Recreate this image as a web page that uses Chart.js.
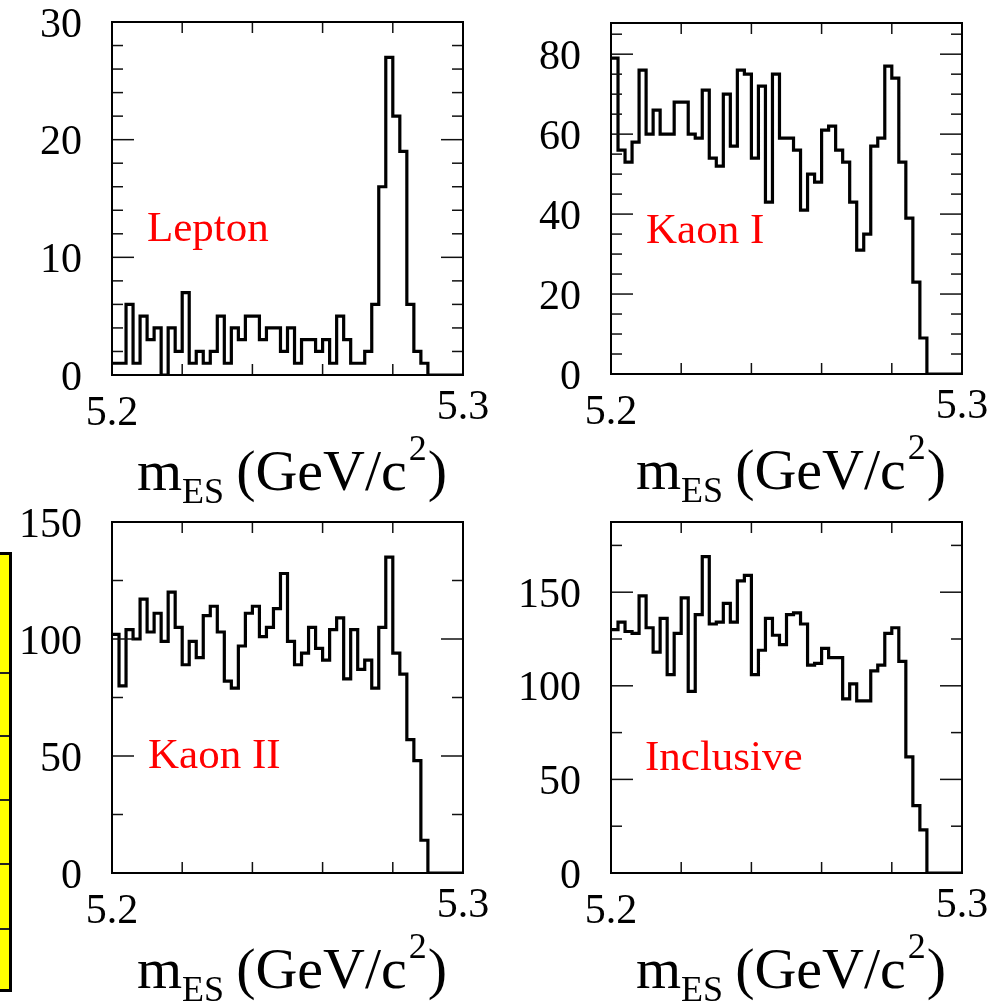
<!DOCTYPE html>
<html><head><meta charset="utf-8">
<script src="https://cdn.jsdelivr.net/npm/chart.js@4/dist/chart.umd.min.js"></script>
<style>
html,body{margin:0;padding:0;background:#fff;}
#wrap{position:relative;width:1002px;height:1003px;overflow:hidden;background:#fff;}
#wrap canvas{position:absolute;left:0;top:0;}
#ybox{position:absolute;left:-8px;top:552px;width:14px;height:434px;background:#ffff00;border:3px solid #000;}
#ybox div{position:absolute;left:0;width:100%;height:2px;background:#222;}
</style></head>
<body>
<div id="wrap">
  <div id="ybox"><div style="top:117px"></div><div style="top:180px"></div><div style="top:244px"></div><div style="top:308px"></div><div style="top:373px"></div></div>
  <canvas id="c1" width="1002" height="1003"></canvas>
  <canvas id="c2" width="1002" height="1003"></canvas>
  <canvas id="c3" width="1002" height="1003"></canvas>
  <canvas id="c4" width="1002" height="1003"></canvas>
</div>
<script>
// ---- data (50 bins, 5.20 - 5.30 GeV/c^2) ----
const X_MIN = 5.2, X_MAX = 5.3, N_BINS = 50;
const xTickLabels = ['5.2', '5.3'];

const lepton = [1,1,6,1,5,3,4,0,4,2,7,1,2,1,2,5,1,4,3,5,5,3,4,4,2,
                4,1,3,3,2,3,1,5,3,1,1,2,6,16,27,22,19,6,2,1,0,0,0,0,0];
const kaonI = [79,56,53,58,76,60,66,60,60,68,68,60,59,71,54,52,70,57,76,75,54,72,43,75,59,
               59,56,41,50,48,61,62,56,53,43,31,35,57,59,77,74,53,39,23,9,0,0,0,0,0];
const kaonII = [102,80,104,100,117,103,111,99,120,105,89,99,92,110,114,103,82,79,97,111,114,101,105,113,128,
                99,89,94,105,96,91,104,109,83,104,87,91,79,105,135,94,85,57,48,14,0,0,0,0,0];
const inclusive = [130,134,129,128,148,131,118,136,106,128,147,97,138,169,133,134,144,134,156,159,106,119,136,127,122,
                   138,139,133,111,112,120,115,115,93,101,92,92,108,111,128,131,113,62,36,23,0,0,0,0,0];

const leptonYTicks = [0,10,20,30];
const kaonIYTicks = [0,20,40,60,80];
const kaonIIYTicks = [0,50,100,150];
const inclusiveYTicks = [0,50,100,150];

const panelNames = ['Lepton','Kaon I','Kaon II','Inclusive'];

// ---- helpers ----
function histPoints(vals){
  const w = (X_MAX - X_MIN) / N_BINS;
  const pts = vals.map((v,i)=>({x: X_MIN + i*w, y: v}));
  pts.push({x: X_MAX, y: vals[vals.length-1]});
  return pts;
}

const SERIF = '"Liberation Serif","Times New Roman",serif';

const decor = {
  id: 'decor',
  afterDatasetsDraw(chart, args, o){
    const {ctx, chartArea:a, scales:{x, y}} = chart;
    ctx.save();
    ctx.strokeStyle = '#111';
    ctx.lineWidth = 1.5;
    const seg = (x1,y1,x2,y2)=>{ctx.beginPath();ctx.moveTo(x1,y1);ctx.lineTo(x2,y2);ctx.stroke();};
    // x ticks (top & bottom)
    for (let k=1; k<5; k++){
      const px = x.getPixelForValue(X_MIN + k*0.02);
      seg(px, a.bottom, px, a.bottom-11);
      seg(px, a.top, px, a.top+11);
    }
    // y ticks (left & right)
    for (let k=1; ; k++){
      const v = k*o.minor;
      if (v > y.max + 1e-9) break;
      const py = y.getPixelForValue(v);
      const r = v / o.major;
      const len = Math.abs(r - Math.round(r)) < 1e-6 ? 22 : 11;
      seg(a.left, py, a.left+len, py);
      seg(a.right, py, a.right-len, py);
    }
    // frame
    ctx.strokeStyle = '#000';
    ctx.lineWidth = 2;
    ctx.strokeRect(a.left, a.top, a.right-a.left, a.bottom-a.top);
    // y labels
    ctx.fillStyle = '#000';
    ctx.font = '42px ' + SERIF;
    ctx.textAlign = 'right';
    ctx.textBaseline = 'alphabetic';
    for (const v of o.yTicks){
      ctx.fillText(String(v), a.left-30, y.getPixelForValue(v)+14.5);
    }
    // x labels
    ctx.textAlign = 'center';
    ctx.fillText(xTickLabels[0], x.getPixelForValue(X_MIN), a.bottom+50);
    ctx.fillText(xTickLabels[1], x.getPixelForValue(X_MAX), a.bottom+44);
    // axis title m_ES (GeV/c^2)
    ctx.textAlign = 'left';
    let tx = a.left + 25;
    const tb = a.bottom + 115;
    const big = '58px ' + SERIF, small = '36px ' + SERIF;
    ctx.font = big; ctx.fillText('m', tx, tb); tx += ctx.measureText('m').width;
    ctx.font = small; ctx.fillText('ES', tx, tb+13); tx += ctx.measureText('ES').width + 12;
    ctx.font = big; ctx.fillText('(GeV/c', tx, tb); tx += ctx.measureText('(GeV/c').width + 2;
    ctx.font = small; ctx.fillText('2', tx, tb-30); tx += ctx.measureText('2').width + 1;
    ctx.font = big; ctx.fillText(')', tx, tb);
    // panel name
    ctx.fillStyle = '#ff0000';
    ctx.font = '43px ' + SERIF;
    ctx.fillText(o.name, a.left + o.nameDx, a.top + o.nameDy);
    ctx.restore();
  }
};

const panels = [
  {id:'c1', vals:lepton,    ymax:30,    major:10, minor:2,  yTicks:leptonYTicks,    name:panelNames[0], nameDx:35, nameDy:219,
   pad:{left:112, top:22,  right:539, bottom:628}},
  {id:'c2', vals:kaonI,     ymax:87.8,  major:20, minor:5,  yTicks:kaonIYTicks,     name:panelNames[1], nameDx:35, nameDy:220,
   pad:{left:611, top:23,  right:40,  bottom:629}},
  {id:'c3', vals:kaonII,    ymax:150,   major:50, minor:25, yTicks:kaonIIYTicks,    name:panelNames[2], nameDx:36, nameDy:246,
   pad:{left:112, top:522, right:539, bottom:130}},
  {id:'c4', vals:inclusive, ymax:187.5, major:50, minor:25, yTicks:inclusiveYTicks, name:panelNames[3], nameDx:34, nameDy:248,
   pad:{left:611, top:522, right:40,  bottom:130}},
];

for (const p of panels){
  new Chart(document.getElementById(p.id), {
    type: 'line',
    data: { datasets: [{
      data: histPoints(p.vals),
      stepped: 'before',
      borderColor: '#000',
      borderWidth: 3.2,
      borderJoinStyle: 'miter',
      borderCapStyle: 'butt',
      pointRadius: 0,
      fill: false,
      tension: 0
    }]},
    options: {
      responsive: false,
      animation: false,
      devicePixelRatio: 1,
      layout: { padding: p.pad },
      plugins: { legend:{display:false}, tooltip:{enabled:false},
        decor: { major:p.major, minor:p.minor, yTicks:p.yTicks, name:p.name, nameDx:p.nameDx, nameDy:p.nameDy } },
      scales: {
        x: { type:'linear', min:X_MIN, max:X_MAX, display:false },
        y: { type:'linear', min:0, max:p.ymax, display:false }
      }
    },
    plugins: [decor]
  });
}
</script>
</body></html>
